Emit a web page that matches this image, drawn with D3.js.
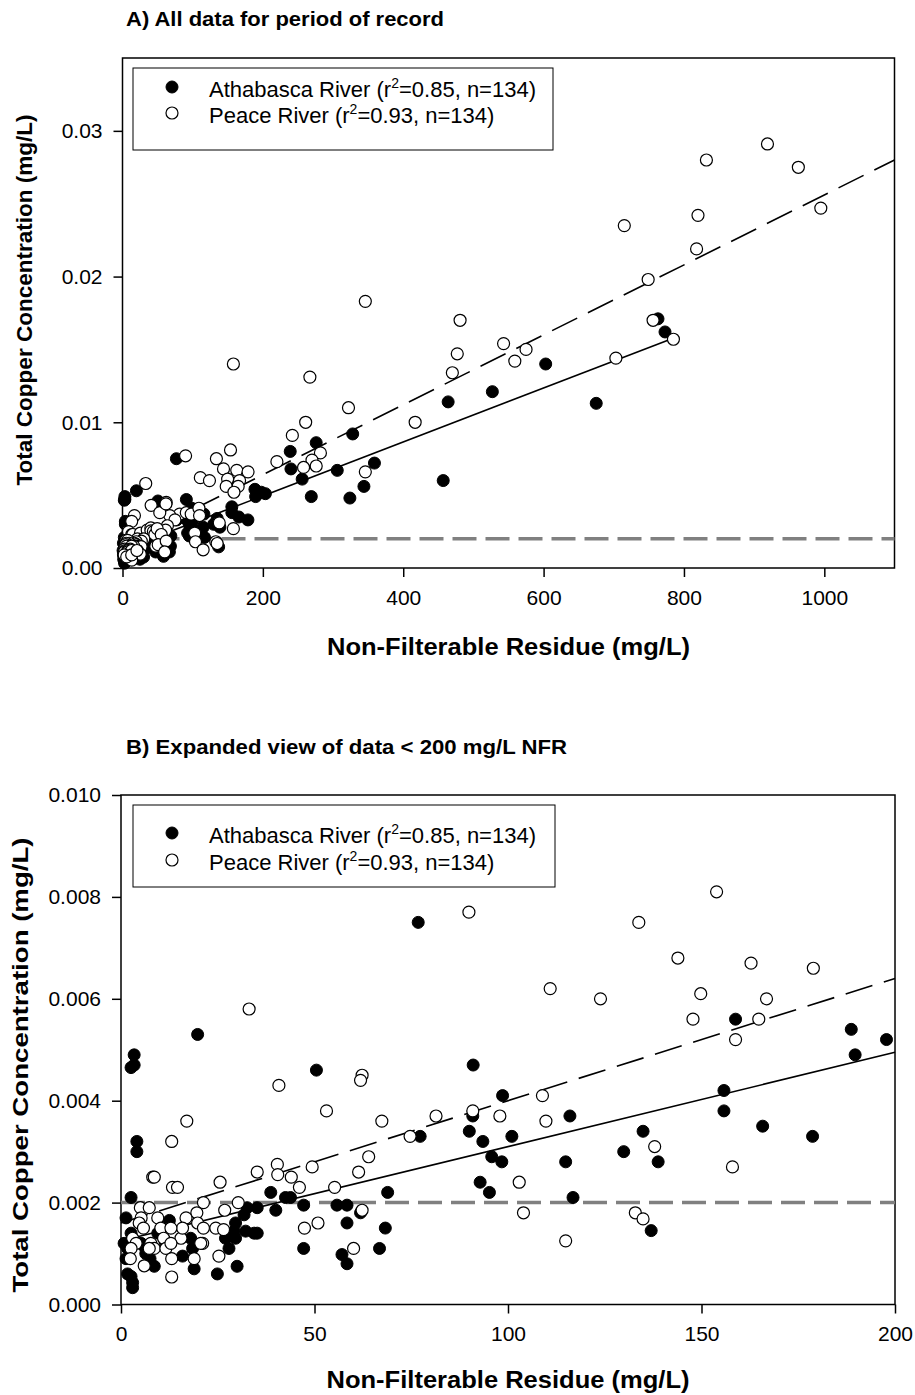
<!DOCTYPE html>
<html>
<head>
<meta charset="utf-8">
<script src="https://cdn.jsdelivr.net/npm/d3@7"></script>
<style>
  body { margin: 0; background: #fff; }
  text { font-family: "Liberation Sans", Arial, sans-serif; fill: #000; }
</style>
</head>
<body>
<div id="chart"></div>
<script>
// Athabasca River samples (filled symbols): NFR (mg/L) and total copper (mg/L)
var athabascaNFR = [76.8, 19.8, 50.5, 3.4, 3.4, 2.6, 91, 4.1, 4.1, 98.6, 90.9, 90, 93.5, 101, 116,
  134.9, 129.9, 95.8, 98.4, 114.9, 138.8, 77.3, 155.8, 155.8, 158.8, 165.8, 178.7, 188.7, 189.7, 197.8,
  92.8, 95.2, 116.8, 68.9, 68.3, 66.8, 137, 2.6, 1.3, 38.7, 42.5, 43.8, 12.5, 32.6, 35.2,
  40, 29.6, 34.4, 35.2, 27, 27.9, 29.6, 18, 18.5, 15.9, 18.9, 24.9, 30, 8.6, 3,
  3, 1.7, 2.6, 47.2, 55.8, 58.4, 58.4, 47.2, 57.1, 58.4, 61.9, 2.6, 1.7, 1.3, 6.4,
  31.8, 32.2, 29.2, 9.5, 5.2, 6.0, 11.5, 7.5, 0.8,
  239, 276, 328, 240, 306, 359, 256, 344, 269, 324, 203.6, 763, 773, 603, 527, 464, 675, 457];
var athabascaCu = [0.0075, 0.0053, 0.0046, 0.0049, 0.0047, 0.00465, 0.0047, 0.0032, 0.0030, 0.0041, 0.0037, 0.0034, 0.0032, 0.0033, 0.0037,
  0.0034, 0.0030, 0.0029, 0.0028, 0.0028, 0.0028, 0.0033, 0.0042, 0.0038, 0.0056, 0.0035, 0.0033, 0.0054, 0.0049, 0.0052,
  0.0024, 0.0022, 0.0021, 0.0022, 0.0015, 0.0011, 0.00145, 0.0021, 0.0017, 0.0022, 0.0021, 0.0021, 0.00165, 0.0019, 0.0019,
  0.00185, 0.0016, 0.0014, 0.0014, 0.0013, 0.0011, 0.0013, 0.0013, 0.0011, 0.00095, 0.0007, 0.0006, 0.00075, 0.00075, 0.00043,
  0.00033, 0.0006, 0.00055, 0.00195, 0.00195, 0.00195, 0.0016, 0.0011, 0.00098, 0.0008, 0.0018, 0.0014, 0.0011, 0.0009, 0.001,
  0.00176, 0.00144, 0.00144, 0.0014, 0.0012, 0.00114, 0.0012, 0.0009, 0.0012,
  0.0080, 0.0086, 0.0092, 0.0068, 0.0067, 0.0072, 0.0061, 0.0056, 0.0049, 0.0048, 0.0051, 0.0171, 0.0162, 0.0140, 0.0121, 0.0114, 0.0113, 0.0060];

// Peace River samples (open symbols)
var peaceNFR = [89.9, 110.9, 123.9, 133.8, 143.9, 153.9, 162.8, 178.9, 149.8, 166.8, 147.8, 164.8, 158.8, 81.4, 90.9,
  97.9, 108.9, 109.8, 137.9, 67.4, 74.7, 102.9, 104, 114.9, 132.9, 134.9, 158, 33.1, 40.8, 53.1,
  62.3, 61.9, 64, 61.4, 17, 13.1, 8.2, 8.6, 13.3, 14.6, 25.6, 35.2, 40.4, 40.5, 44,
  46.1, 49.4, 55.2, 21.3, 30.3, 26.8, 19.6, 16.8, 19.8, 21.3, 24.5, 26.5, 21.1, 15.5, 18.9,
  25.3, 13.1, 47.4, 50.9, 62.3, 60.1, 5, 7.3, 9.5, 5.2, 4.7, 15.9, 10.3, 5.8, 12.9,
  11, 3, 3.9, 2.6, 7.7, 8.6, 7.3, 11.6, 12.9, 2.4, 6, 13.1, 20.6,
  919, 832, 963, 995, 820, 818, 749, 715, 756, 785, 703, 481, 477, 470, 543,
  575, 559, 417, 158, 267, 322, 261, 242, 346, 220, 282, 270, 276, 258, 346];
var peaceCu = [0.0077, 0.0062, 0.0060, 0.0075, 0.0068, 0.0081, 0.0067, 0.0066, 0.0061, 0.0060, 0.0056, 0.0056, 0.0052, 0.0037, 0.0038,
  0.0037, 0.0041, 0.0036, 0.0031, 0.0036, 0.0033, 0.0024, 0.0018, 0.00125, 0.0018, 0.00168, 0.0027, 0.0058, 0.0043, 0.0038,
  0.0045, 0.0044, 0.0029, 0.0026, 0.0036, 0.0032, 0.0025, 0.0025, 0.0023, 0.0023, 0.0024, 0.0026, 0.00275, 0.00255, 0.0025,
  0.0023, 0.0027, 0.0023, 0.0020, 0.0020, 0.00185, 0.0018, 0.0017, 0.0016, 0.0015, 0.0015, 0.00147, 0.0012, 0.0013, 0.0009,
  0.00095, 0.00054, 0.0015, 0.0016, 0.00185, 0.0011, 0.0019, 0.0019, 0.0017, 0.0017, 0.0016, 0.0015, 0.0015, 0.0015, 0.0015,
  0.0013, 0.0013, 0.0012, 0.0011, 0.0012, 0.0011, 0.0011, 0.0011, 0.0012, 0.0009, 0.00076, 0.0009, 0.0012,
  0.0291, 0.0280, 0.0275, 0.0247, 0.0242, 0.0219, 0.0198, 0.0235, 0.0170, 0.0157, 0.0144, 0.0170, 0.0147, 0.0134, 0.0154,
  0.0150, 0.0142, 0.0100, 0.0140, 0.0131, 0.0110, 0.0100, 0.0091, 0.0183, 0.0073, 0.0079, 0.0074, 0.0070, 0.0069, 0.0066];

// linear fits [intercept, slope] and the x range each was drawn over
var athabascaFit = [0.00125, 0.0000185];
var peaceFit = [0.0016, 0.000024];
var athabascaFitRange = [0, 780];
var peaceFitRange = [0, 1100];

// guideline concentration
var guideline = 0.002;

// legend labels
var seriesNames = ["Athabasca River", "Peace River"];
var seriesR2 = ["0.85", "0.93"];
var seriesN = [134, 134];

// tick labels
var panelAXTicks = [0, 200, 400, 600, 800, 1000];
var panelAYTicks = [0, 0.01, 0.02, 0.03];
var panelBXTicks = [0, 50, 100, 150, 200];
var panelBYTicks = [0, 0.002, 0.004, 0.006, 0.008, 0.010];

var svgWidth = 915;
var svgHeight = 1395;

var svg = d3.select("#chart")
  .append("svg")
  .attr("width", svgWidth)
  .attr("height", svgHeight);

var athabasca = athabascaNFR.map((d, i) => ({ x: d, y: athabascaCu[i] }));
var peace = peaceNFR.map((d, i) => ({ x: d, y: peaceCu[i] }));

var panels = [
  {
    title: "A) All data for period of record", titleX: 126, titleY: 26, titleLen: 318,
    left: 122.5, right: 894.5, top: 58, bottom: 568,
    xMax: 1100, yMax: 0.035, xTicks: panelAXTicks, yTicks: panelAYTicks, yFormat: ".2f",
    xTitleY: 655, yTitleX: 32, yTitleY: 300, yTitleLen: 371,
    legendBox: [133, 68, 553, 150], legendRows: [97, 123]
  },
  {
    title: "B) Expanded view of data < 200 mg/L NFR", titleX: 126, titleY: 754, titleLen: 441,
    left: 121, right: 895, top: 795, bottom: 1304.5,
    xMax: 200, yMax: 0.010, xTicks: panelBXTicks, yTicks: panelBYTicks, yFormat: ".3f",
    xTitleY: 1388, yTitleX: 28, yTitleY: 1065, yTitleLen: 455,
    legendBox: [133, 805, 555, 887], legendRows: [843, 870]
  }
];

panels.forEach(function(p) {
  var x = d3.scaleLinear().domain([0, p.xMax]).range([p.left, p.right]);
  var y = d3.scaleLinear().domain([0, p.yMax]).range([p.bottom, p.top]);
  var g = svg.append("g");

  // panel title
  g.append("text")
    .attr("x", p.titleX)
    .attr("y", p.titleY)
    .attr("font-size", 20)
    .attr("font-weight", "bold")
    .attr("textLength", p.titleLen)
    .attr("lengthAdjust", "spacingAndGlyphs")
    .text(p.title);

  // axes
  var xAxis = g.append("g")
    .attr("transform", `translate(0, ${p.bottom})`)
    .call(d3.axisBottom(x).tickValues(p.xTicks).tickFormat(d3.format("d")).tickSize(9).tickPadding(13));
  var yAxis = g.append("g")
    .attr("transform", `translate(${p.left}, 0)`)
    .call(d3.axisLeft(y).tickValues(p.yTicks).tickFormat(d3.format(p.yFormat)).tickSize(9).tickPadding(11));

  [xAxis, yAxis].forEach(function(a) {
    a.select(".domain").remove();
    a.selectAll(".tick line").attr("stroke", "#000").attr("stroke-width", 1.5);
    a.selectAll(".tick text")
      .attr("font-size", 21)
      .attr("font-family", "'Liberation Sans', Arial, sans-serif")
      .attr("fill", "#000");
  });

  // frame
  g.append("rect")
    .attr("x", p.left)
    .attr("y", p.top)
    .attr("width", p.right - p.left)
    .attr("height", p.bottom - p.top)
    .attr("fill", "none")
    .attr("stroke", "#000")
    .attr("stroke-width", 1.5);

  // axis titles
  g.append("text")
    .attr("x", (p.left + p.right) / 2)
    .attr("y", p.xTitleY)
    .attr("text-anchor", "middle")
    .attr("font-size", 23)
    .attr("font-weight", "bold")
    .attr("textLength", 363)
    .attr("lengthAdjust", "spacingAndGlyphs")
    .text("Non-Filterable Residue (mg/L)");

  g.append("text")
    .attr("transform", `translate(${p.yTitleX}, ${p.yTitleY}) rotate(-90)`)
    .attr("text-anchor", "middle")
    .attr("font-size", 22.5)
    .attr("font-weight", "bold")
    .attr("textLength", p.yTitleLen)
    .attr("lengthAdjust", "spacingAndGlyphs")
    .text("Total Copper Concentration (mg/L)");

  // 0.002 mg/L guideline
  g.append("line")
    .attr("x1", x(0)).attr("x2", x(p.xMax))
    .attr("y1", y(guideline)).attr("y2", y(guideline))
    .attr("stroke", "#808080")
    .attr("stroke-width", 3.5)
    .attr("stroke-dasharray", "24,9");

  // regression lines, limited to the panel
  function fitLine(fit, range, dash) {
    var x1 = Math.min(range[1], p.xMax);
    g.append("line")
      .attr("x1", x(range[0])).attr("y1", y(fit[0] + fit[1] * range[0]))
      .attr("x2", x(x1)).attr("y2", y(fit[0] + fit[1] * x1))
      .attr("stroke", "#000")
      .attr("stroke-width", 1.6)
      .attr("stroke-dasharray", dash);
  }
  fitLine(athabascaFit, athabascaFitRange, null);
  fitLine(peaceFit, peaceFitRange, "28,12");

  // points inside the panel only
  function inPanel(d) { return d.x <= p.xMax && d.y <= p.yMax; }

  g.append("g").selectAll("circle")
    .data(athabasca.filter(inPanel))
    .enter()
    .append("circle")
    .attr("cx", d => x(d.x))
    .attr("cy", d => y(d.y))
    .attr("r", 6)
    .attr("fill", "#000")
    .attr("stroke", "#000")
    .attr("stroke-width", 1);

  g.append("g").selectAll("circle")
    .data(peace.filter(inPanel))
    .enter()
    .append("circle")
    .attr("cx", d => x(d.x))
    .attr("cy", d => y(d.y))
    .attr("r", 6)
    .attr("fill", "#fff")
    .attr("stroke", "#000")
    .attr("stroke-width", 1.2);

  // legend
  var lb = p.legendBox;
  g.append("rect")
    .attr("x", lb[0])
    .attr("y", lb[1])
    .attr("width", lb[2] - lb[0])
    .attr("height", lb[3] - lb[1])
    .attr("fill", "#fff")
    .attr("stroke", "#000")
    .attr("stroke-width", 1);

  seriesNames.forEach(function(name, i) {
    var rowY = p.legendRows[i];
    g.append("circle")
      .attr("cx", 172)
      .attr("cy", rowY - 10)
      .attr("r", 6)
      .attr("fill", i === 0 ? "#000" : "#fff")
      .attr("stroke", "#000")
      .attr("stroke-width", i === 0 ? 1 : 1.2);

    var t = g.append("text")
      .attr("x", 209)
      .attr("y", rowY)
      .attr("font-size", 22);
    t.append("tspan").text(name + " (r");
    t.append("tspan").attr("dy", -9).attr("font-size", 14).text("2");
    t.append("tspan").attr("dy", 9).text("=" + seriesR2[i] + ", n=" + seriesN[i] + ")");
  });
});
</script>
</body>
</html>
